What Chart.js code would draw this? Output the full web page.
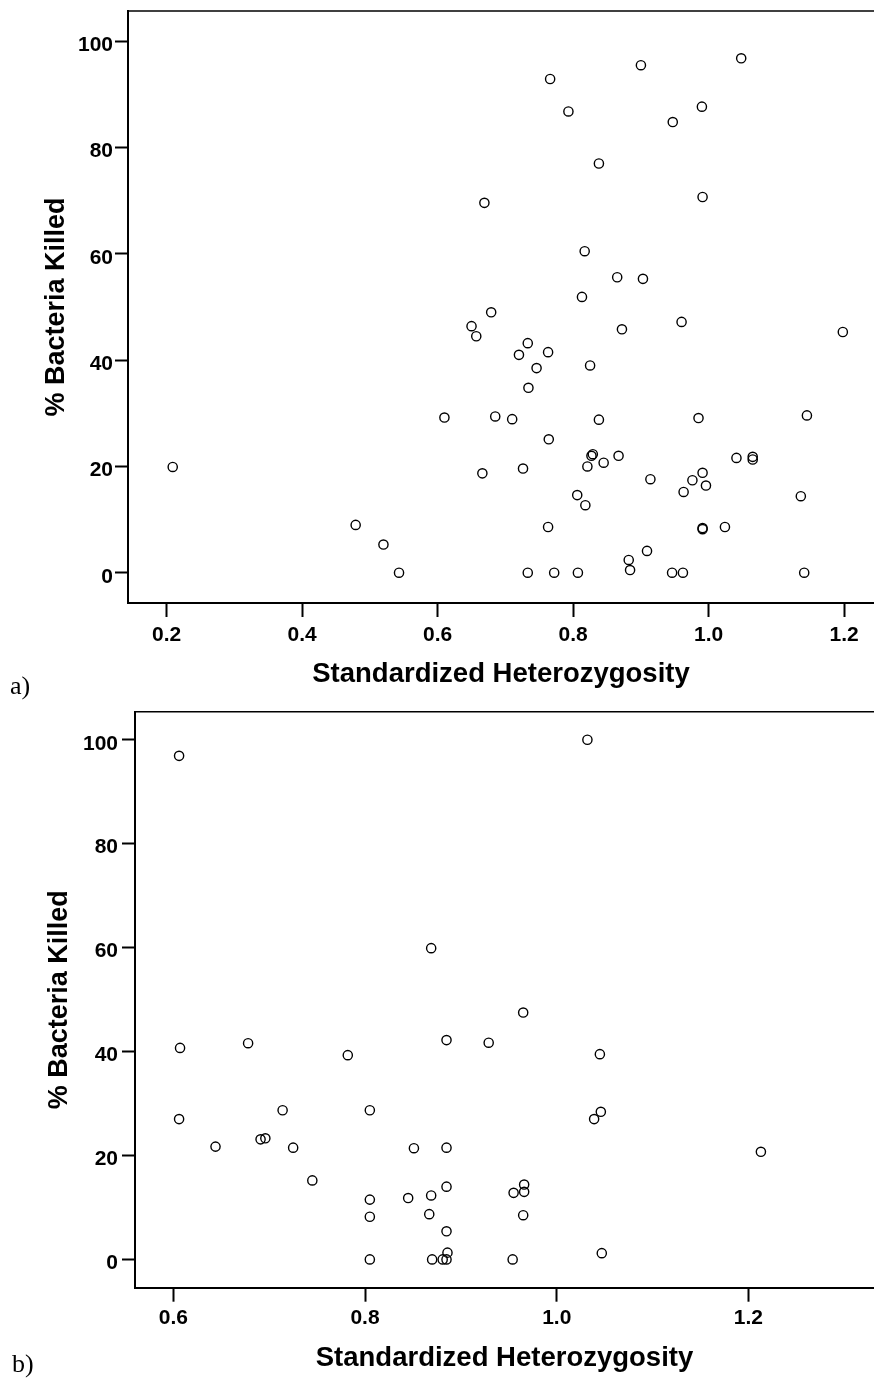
<!DOCTYPE html>
<html>
<head>
<meta charset="utf-8">
<script src="https://cdn.jsdelivr.net/npm/chart.js@4.4.1/dist/chart.umd.min.js"></script>
<style>
  body { margin: 0; background: #fff; }
  #wrap { position: relative; width: 874px; height: 1380px; overflow: hidden; }
  canvas { position: absolute; left: 0; }
  .tag { position: absolute; font-family: "Liberation Serif", "Times New Roman", serif; font-size: 26px; line-height: 26px; color: #000; }
</style>
</head>
<body>
<div id="wrap">
  <canvas id="chartA" width="874" height="700" style="top:0"></canvas>
  <canvas id="chartB" width="874" height="680" style="top:700px"></canvas>
  <div class="tag" style="left:10px; top:673px">a)</div>
  <div class="tag" style="left:12px; top:1351px">b)</div>
</div>
<script>
// panel a data
const heteroA = [0.766, 0.900, 1.048, 0.793, 0.990, 0.947, 0.838, 0.669, 0.991, 0.817, 0.865, 0.903, 0.813, 0.679, 0.650, 0.657, 0.733, 0.872, 0.960, 1.198,
  0.720, 0.763, 0.825, 0.746, 0.734, 0.610, 0.685, 0.710, 0.838, 0.985, 1.145, 0.764, 0.827, 0.829, 0.821, 0.845, 0.867, 0.666, 0.726, 1.041,
  1.065, 1.065, 0.914, 0.976, 0.991, 0.996, 0.963, 1.136, 0.806, 0.818, 0.763, 0.991, 0.991, 1.024, 0.909, 0.882, 0.884, 0.733, 0.772, 0.807,
  0.946, 0.962, 1.141, 0.209, 0.479, 0.520, 0.543];
const killedA = [92.9, 95.5, 96.8, 86.8, 87.7, 84.8, 77.0, 69.6, 70.7, 60.5, 55.6, 55.3, 51.9, 49.0, 46.4, 44.5, 43.2, 45.8, 47.2, 45.3,
  41.0, 41.5, 39.0, 38.5, 34.8, 29.2, 29.4, 28.9, 28.8, 29.1, 29.6, 25.1, 22.0, 22.3, 20.0, 20.7, 22.0, 18.7, 19.6, 21.6,
  21.8, 21.3, 17.6, 17.4, 18.8, 16.4, 15.2, 14.4, 14.6, 12.7, 8.6, 8.4, 8.2, 8.6, 4.1, 2.4, 0.5, 0, 0, 0,
  0, 0, 0, 19.9, 9.0, 5.3, 0];

// panel b data
const heteroB = [0.606, 1.032, 0.869, 0.965, 0.607, 0.678, 0.782, 0.885, 0.929, 1.045, 0.606, 0.714, 0.805, 1.046, 1.039, 0.644, 0.691, 0.696, 0.725, 0.851,
  0.885, 1.213, 0.745, 0.885, 0.966, 0.966, 0.955, 0.805, 0.845, 0.869, 0.805, 0.867, 0.965, 0.885, 0.805, 0.870, 0.881, 0.885, 0.886, 0.954, 1.047];
const killedB = [96.9, 100, 59.9, 47.5, 40.7, 41.6, 39.3, 42.2, 41.7, 39.5, 27.0, 28.7, 28.7, 28.4, 27.0, 21.7, 23.1, 23.3, 21.5, 21.4,
  21.5, 20.7, 15.2, 14.0, 14.4, 13.0, 12.8, 11.5, 11.8, 12.3, 8.2, 8.7, 8.5, 5.4, 0, 0, 0, 0, 1.3, 0, 1.2];

const xTicksA = [0.2, 0.4, 0.6, 0.8, 1.0, 1.2];
const xTicksB = [0.6, 0.8, 1.0, 1.2];
const yTicks = [0, 20, 40, 60, 80, 100];

const xTitle = 'Standardized Heterozygosity';
const yTitle = '% Bacteria Killed';

const FONT = '"Liberation Sans", Arial, Helvetica, sans-serif';

// top frame line of each plot box
const topLine = {
  id: 'topLine',
  afterDraw(chart) {
    const { ctx, chartArea } = chart;
    ctx.save();
    ctx.strokeStyle = '#000';
    ctx.lineWidth = 1.5;
    ctx.beginPath();
    ctx.moveTo(chartArea.left, chartArea.top);
    ctx.lineTo(chart.width, chartArea.top);
    ctx.stroke();
    ctx.restore();
  }
};

function makeChart(id, xs, ys, cfg) {
  const pts = xs.map((x, i) => ({ x: x, y: ys[i] }));
  return new Chart(document.getElementById(id), {
    type: 'scatter',
    data: {
      datasets: [{
        data: pts,
        pointStyle: 'circle',
        pointRadius: 4.6,
        pointBorderWidth: 1.4,
        pointBorderColor: '#000',
        pointBackgroundColor: 'rgba(0,0,0,0)'
      }]
    },
    options: {
      responsive: false,
      animation: false,
      events: [],
      layout: { autoPadding: false, padding: { top: cfg.padTop, left: 0, right: 0, bottom: 0 } },
      plugins: { legend: { display: false }, tooltip: { enabled: false } },
      scales: {
        x: {
          type: 'linear',
          min: cfg.xMin, max: cfg.xMax,
          afterFit: s => {
            s.height = cfg.xAxisH;
            s.paddingLeft = 0; s.paddingRight = 0;
          },
          afterBuildTicks: s => { s.ticks = cfg.xTicks.map(v => ({ value: v })); },
          border: { display: true, color: '#000', width: 2 },
          grid: { drawOnChartArea: false, drawTicks: true, tickLength: 14, tickWidth: 2, tickColor: '#000' },
          ticks: {
            color: '#000', padding: cfg.xPad, maxRotation: 0,
            font: { family: FONT, size: 21, weight: 'bold' },
            callback: v => Number(v).toFixed(1)
          },
          title: {
            display: true, text: xTitle, color: '#000',
            font: { family: FONT, size: 27.5, weight: 'bold' },
            padding: { top: 0, bottom: cfg.xTitlePad }
          }
        },
        y: {
          type: 'linear',
          min: cfg.yMin, max: cfg.yMax,
          afterFit: s => {
            s.width = cfg.yAxisW;
            s.paddingTop = 0; s.paddingBottom = 0;
          },
          afterBuildTicks: s => { s.ticks = yTicks.map(v => ({ value: v })); },
          border: { display: true, color: '#000', width: 2 },
          grid: { drawOnChartArea: false, drawTicks: true, tickLength: 13, tickWidth: 2, tickColor: '#000' },
          ticks: {
            color: '#000', padding: cfg.yPad, labelOffset: 4,
            font: { family: FONT, size: 21, weight: 'bold' },
            callback: v => String(v)
          },
          title: {
            display: true, text: yTitle, color: '#000',
            font: { family: FONT, size: 27, weight: 'bold' },
            padding: { top: cfg.yTitlePad, bottom: 0 }
          }
        }
      }
    },
    plugins: [topLine]
  });
}

makeChart('chartA', heteroA, killedA, {
  padTop: 11, xAxisH: 97, yAxisW: 128,
  xMin: 0.143, xMax: 1.244, yMin: -5.7, yMax: 105.7,
  xTicks: xTicksA, xPad: 6, yPad: 2, xTitlePad: 8.8, yTitlePad: 40
});

makeChart('chartB', heteroB, killedB, {
  padTop: 11.7, xAxisH: 92.3, yAxisW: 135,
  xMin: 0.56, xMax: 1.331, yMin: -5.45, yMax: 105.4,
  xTicks: xTicksB, xPad: 4, yPad: 4, xTitlePad: 4.8, yTitlePad: 43
});
</script>
</body>
</html>
